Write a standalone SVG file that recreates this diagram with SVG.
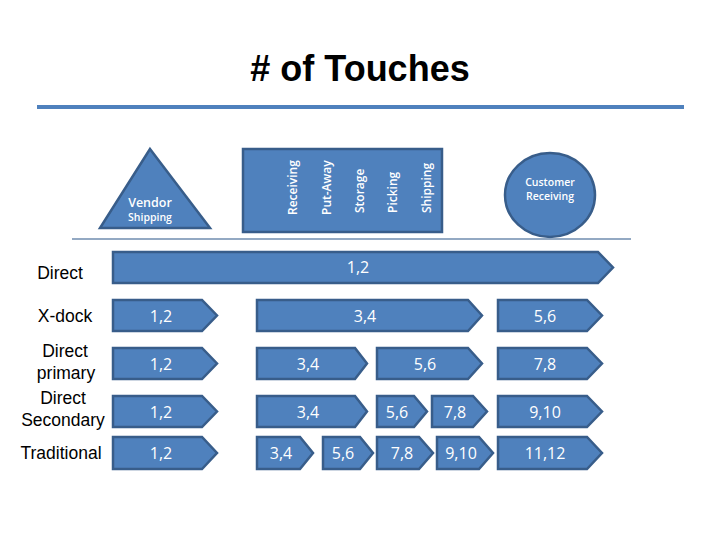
<svg xmlns="http://www.w3.org/2000/svg" width="720" height="540" viewBox="0 0 720 540">
<style>
.shape{fill:#4F81BD;stroke:#385D8A;stroke-width:2.5;stroke-linejoin:miter}
.at{font-family:"Open Sans","Liberation Sans",sans-serif;font-size:16px;fill:#fff;text-anchor:middle;dominant-baseline:central}
.lbl{font-family:"Liberation Sans",Arial,sans-serif;font-size:17.5px;fill:#000;text-anchor:middle}
.hd{font-family:"Open Sans","Liberation Sans",sans-serif;font-weight:600;fill:#fff;text-anchor:middle}
.vt{font-family:"Open Sans","Liberation Sans",sans-serif;font-weight:600;fill:#fff;font-size:12px;text-anchor:start}
</style>
<rect width="720" height="540" fill="#fff"/>
<text x="360" y="81" font-family="Liberation Sans,Arial,sans-serif" font-size="36" font-weight="bold" text-anchor="middle" fill="#000"># of Touches</text>
<rect x="37" y="105" width="647" height="4" fill="#4F81BD"/>
<g id="vendor">
<polygon class="shape" points="150,149 210,228 100,228"/>
<text class="hd" x="150" y="207" font-size="12.5">Vendor</text>
<text class="hd" x="150" y="221" font-size="10.5">Shipping</text>
</g>
<g id="warehouse">
<rect class="shape" x="243" y="149" width="199" height="83"/>
<text class="vt" transform="translate(297,215) rotate(-90)">Receiving</text>
<text class="vt" transform="translate(331,215) rotate(-90)">Put-Away</text>
<text class="vt" transform="translate(364,213) rotate(-90)">Storage</text>
<text class="vt" transform="translate(397,213) rotate(-90)">Picking</text>
<text class="vt" transform="translate(431,213) rotate(-90)">Shipping</text>
</g>
<g id="customer">
<ellipse class="shape" cx="550" cy="195" rx="45" ry="42"/>
<text class="hd" x="550" y="186" font-size="10.5">Customer</text>
<text class="hd" x="550" y="200" font-size="10.5">Receiving</text>
</g>
<line x1="72" y1="239" x2="631" y2="239" stroke="#6F8DAF" stroke-width="1.5"/>
<g id="labels">
<text class="lbl" x="60" y="279">Direct</text>
<text class="lbl" x="65" y="322">X-dock</text>
<text class="lbl" x="65" y="357">Direct</text>
<text class="lbl" x="66" y="379">primary</text>
<text class="lbl" x="63" y="404">Direct</text>
<text class="lbl" x="63" y="426">Secondary</text>
<text class="lbl" x="61" y="459">Traditional</text>
</g>
<g id="connectors">
<g id="row-direct">
<polygon class="shape" points="113,252 598,252 613,267.5 598,283 113,283"/>
<text class="at" x="358" y="267">1,2</text>
</g>
<g id="row-xdock">
<polygon class="shape" points="113,300 202,300 217,315.5 202,331 113,331"/>
<text class="at" x="161" y="315.5">1,2</text>
<polygon class="shape" points="257,300 468,300 482,315.5 468,331 257,331"/>
<text class="at" x="365" y="315.5">3,4</text>
<polygon class="shape" points="498,300 587,300 602,315.5 587,331 498,331"/>
<text class="at" x="545" y="315.5">5,6</text>
</g>
<g id="row-primary">
<polygon class="shape" points="113,348 202,348 217,363.5 202,379 113,379"/>
<text class="at" x="161" y="363.5">1,2</text>
<polygon class="shape" points="257,348 355,348 367,363.5 355,379 257,379"/>
<text class="at" x="308" y="363.5">3,4</text>
<polygon class="shape" points="377,348 468,348 482,363.5 468,379 377,379"/>
<text class="at" x="425" y="363.5">5,6</text>
<polygon class="shape" points="498,348 587,348 602,363.5 587,379 498,379"/>
<text class="at" x="545" y="363.5">7,8</text>
</g>
<g id="row-secondary">
<polygon class="shape" points="113,396 202,396 217,411.5 202,427 113,427"/>
<text class="at" x="161" y="411.5">1,2</text>
<polygon class="shape" points="257,396 355,396 367,411.5 355,427 257,427"/>
<text class="at" x="308" y="411.5">3,4</text>
<polygon class="shape" points="377,396 414,396 427,411.5 414,427 377,427"/>
<text class="at" x="397" y="411.5">5,6</text>
<polygon class="shape" points="432,396 473,396 487,411.5 473,427 432,427"/>
<text class="at" x="455" y="411.5">7,8</text>
<polygon class="shape" points="498,396 587,396 602,411.5 587,427 498,427"/>
<text class="at" x="545" y="411.5">9,10</text>
</g>
<g id="row-traditional">
<polygon class="shape" points="113,437 202,437 217,453 202,469 113,469"/>
<text class="at" x="161" y="453">1,2</text>
<polygon class="shape" points="257,437 300,437 313,453 300,469 257,469"/>
<text class="at" x="281" y="453">3,4</text>
<polygon class="shape" points="323,437 360,437 373,453 360,469 323,469"/>
<text class="at" x="343" y="453">5,6</text>
<polygon class="shape" points="377,437 419,437 433,453 419,469 377,469"/>
<text class="at" x="402" y="453">7,8</text>
<polygon class="shape" points="437,437 479,437 493,453 479,469 437,469"/>
<text class="at" x="461" y="453">9,10</text>
<polygon class="shape" points="498,437 587,437 602,453 587,469 498,469"/>
<text class="at" x="545" y="453">11,12</text>
</g>
</g>
</svg>
